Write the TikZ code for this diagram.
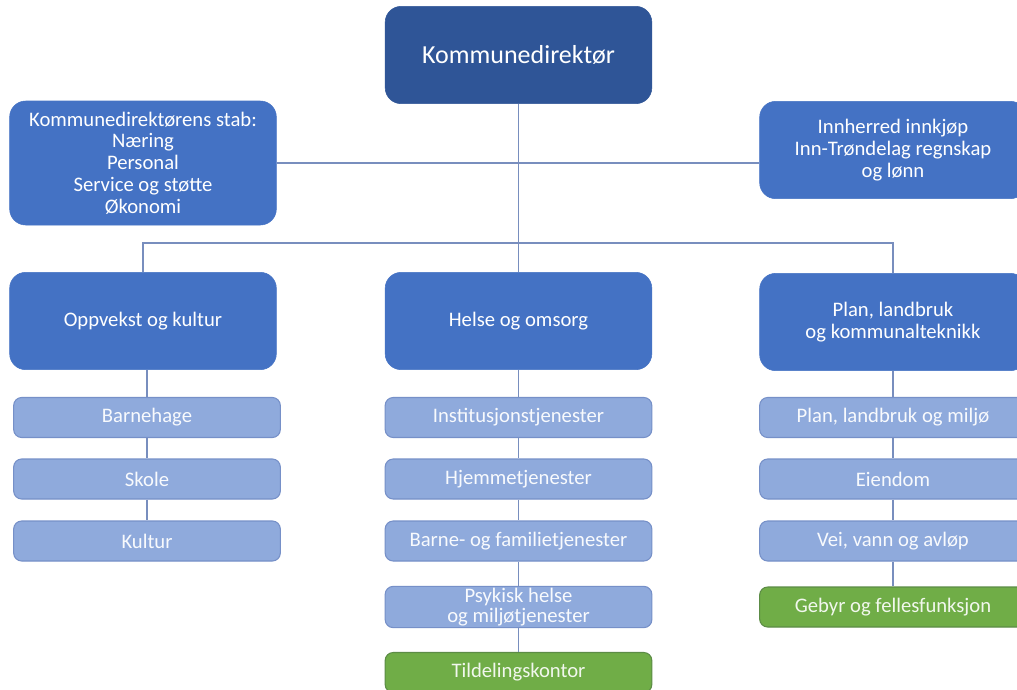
\documentclass[tikz,border=0pt]{standalone}
\usepackage{fontspec}
\setmainfont{Carlito}
\usepackage{xcolor}
\usetikzlibrary{positioning, calc}

\definecolor{morkblaa}{RGB}{47,85,151}
\definecolor{blaa}{RGB}{68,114,196}
\definecolor{lyseblaa}{RGB}{143,170,220}
\definecolor{lyskant}{RGB}{118,144,200}
\definecolor{gronn}{RGB}{112,173,71}
\definecolor{gronnkant}{RGB}{92,140,70}
\definecolor{linje}{RGB}{120,142,190}

\tikzset{
  hovedboks/.style={draw=blaa, fill=blaa, text=white, rounded corners=12pt,
    align=center, minimum width=200pt, minimum height=73pt, inner sep=2pt,
    font=\fontsize{15.5}{16.3}\selectfont},
  underboks/.style={draw=lyskant, line width=0.8pt, fill=lyseblaa, text=white!94!lyseblaa,
    rounded corners=6pt, align=center, minimum width=200pt, minimum height=30pt,
    inner sep=1pt, font=\fontsize{15.5}{16}\selectfont},
  gronnboks/.style={underboks, draw=gronnkant, fill=gronn, text=white!90!gronn},
  strek/.style={draw=linje, line width=1.1pt}
}

\begin{document}
\begin{tikzpicture}[x=0.75pt, y=-0.75pt]
\useasboundingbox[fill=white] (0,0) rectangle (1017,689);

% toppen
\node[hovedboks, fill=morkblaa, draw=morkblaa, font=\fontsize{19.5}{21}\selectfont]
  (Direktor) at (518.5,55) {Kommunedirektør};
\node[hovedboks, minimum height=93pt] (Stab) at (143,163)
  {Kommunedirektørens stab:\\Næring\\Personal\\Service og støtte\\Økonomi};
\node[hovedboks] (Innkjop) at (893,150)
  {Innherred innkjøp\\Inn-Trøndelag regnskap\\og lønn};

% sektorer
\node[hovedboks] (Oppvekst) at (143,321) {Oppvekst og kultur};
\node[hovedboks] (Helse) at (518.5,321) {Helse og omsorg};
\node[hovedboks] (Plan) at (893,322) {Plan, landbruk\\og kommunalteknikk};

% enheter
\node[underboks] (Barnehage) at (147,417.5) {Barnehage};
\node[underboks] (Skole) at (147,479) {Skole};
\node[underboks] (Kultur) at (147,541) {Kultur};

\node[underboks] (Institusjon) at (518.5,417.5) {Institusjonstjenester};
\node[underboks] (Hjemme) at (518.5,479) {Hjemmetjenester};
\node[underboks] (Familie) at (518.5,541) {Barne- og familietjenester};
\node[underboks, font=\fontsize{15.5}{15.5}\selectfont] (Psykisk) at (518.5,607)
  {Psykisk helse\\og miljøtjenester};
\node[gronnboks] (Tildeling) at (518.5,672.5) {Tildelingskontor};

\node[underboks] (Miljo) at (893,417.5) {Plan, landbruk og miljø};
\node[underboks] (Eiendom) at (893,479) {Eiendom};
\node[underboks] (Vei) at (893,541) {Vei, vann og avløp};
\node[gronnboks] (Gebyr) at (893,607) {Gebyr og fellesfunksjon};

% linjer
\coordinate (Buss) at (518.5,243);
\draw[strek] (Direktor) -- (Helse);
\draw[strek] (Stab.east) -- (Innkjop.west |- Stab.east);
\draw[strek] (Oppvekst.north) |- (Buss) -| (Plan.north);

\draw[strek] (Oppvekst.south -| Barnehage) -- (Barnehage);
\draw[strek] (Barnehage) -- (Skole);
\draw[strek] (Skole) -- (Kultur);

\draw[strek] (Helse) -- (Institusjon);
\draw[strek] (Institusjon) -- (Hjemme);
\draw[strek] (Hjemme) -- (Familie);
\draw[strek] (Familie) -- (Psykisk);
\draw[strek] (Psykisk) -- (Tildeling);

\draw[strek] (Plan) -- (Miljo);
\draw[strek] (Miljo) -- (Eiendom);
\draw[strek] (Eiendom) -- (Vei);
\draw[strek] (Vei) -- (Gebyr);
\end{tikzpicture}
\end{document}
